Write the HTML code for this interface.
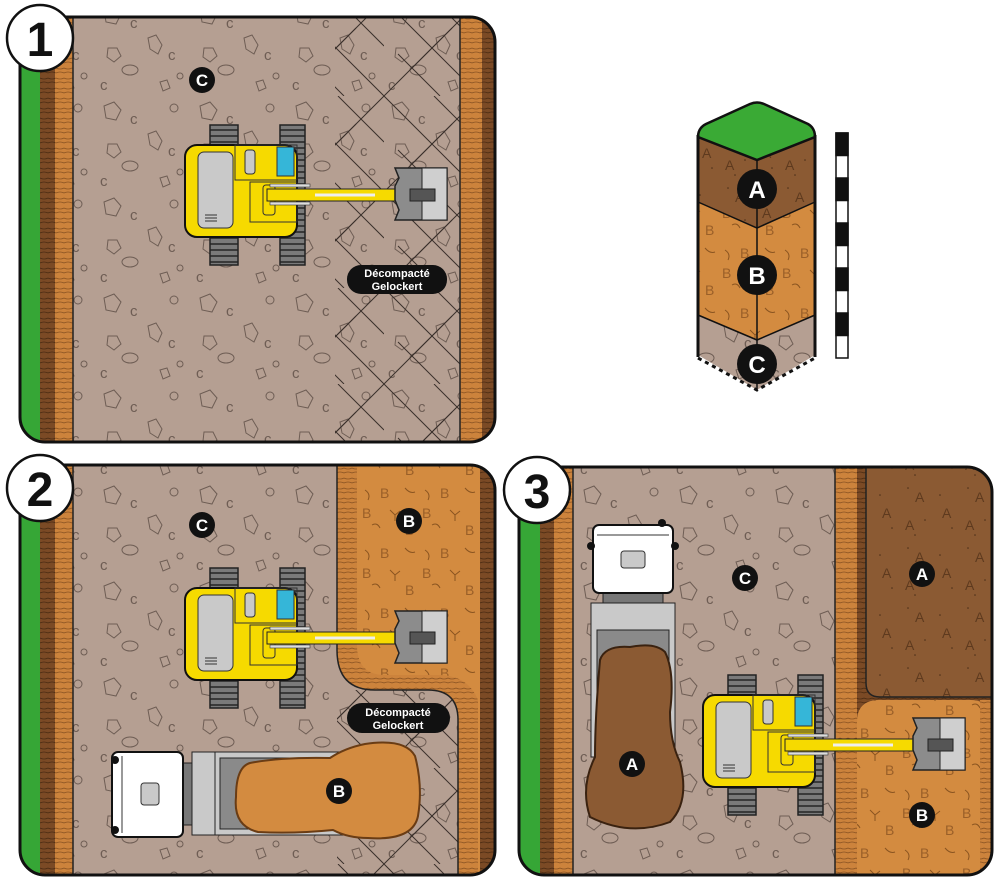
<!DOCTYPE html>
<html><head><meta charset="utf-8"><style>
html,body{margin:0;padding:0;background:#fff;}
svg{display:block;}
text{font-family:"Liberation Sans",Arial,sans-serif;}
</style></head><body>
<svg width="1000" height="889" viewBox="0 0 1000 889" xmlns="http://www.w3.org/2000/svg">
<defs>
<pattern id="pC" width="96" height="96" patternUnits="userSpaceOnUse">
<rect width="96" height="96" fill="#b59f92"/>
<g fill="none" stroke="#6e5d54" stroke-width="1">
<path d="M8 10 l10 -4 l7 8 l-5 10 l-10 -2z"/><path d="M52 38 l8 -3 l6 10 l-4 9 l-8 -5z"/>
<ellipse cx="34" cy="70" rx="8" ry="5"/><circle cx="78" cy="12" r="4"/><path d="M12 48 l9 0 l4 8 l-7 6 l-7 -5z"/>
<circle cx="84" cy="76" r="3"/><path d="M64 82 l7 -2 l3 8 l-7 3z"/>
</g>
<g fill="#6e5d54" font-size="15"><text x="34" y="28">c</text><text x="72" y="60">c</text><text x="4" y="90">c</text></g>
</pattern>
<pattern id="pX" width="96" height="96" patternUnits="userSpaceOnUse">
<rect width="96" height="96" fill="url(#pC)"/>
<g stroke="#3a302b" stroke-width="1"><line x1="0" y1="0" x2="48" y2="48"/><line x1="48" y1="48" x2="96" y2="96"/><line x1="96" y1="0" x2="28" y2="68"/><line x1="68" y1="28" x2="0" y2="96"/><line x1="14" y1="54" x2="56" y2="96"/><line x1="50" y1="0" x2="96" y2="46"/></g>
</pattern>
<pattern id="pB" width="60" height="60" patternUnits="userSpaceOnUse">
<rect width="60" height="60" fill="#d38b40"/>
<g fill="none" stroke="#8a5420" stroke-width="1"><path d="M5 10 q6 4 3 10"/><path d="M30 30 l5 5 l5 -4 M35 35 v6"/><path d="M45 8 q5 6 10 4"/><path d="M12 45 q5 -3 8 3"/></g>
<g fill="#9a5f28" font-size="14"><text x="20" y="18">B</text><text x="45" y="55">B</text><text x="2" y="38">B</text></g>
</pattern>
<pattern id="pA" width="60" height="60" patternUnits="userSpaceOnUse">
<rect width="60" height="60" fill="#8b5a33"/>
<g fill="#4a2e18"><circle cx="8" cy="8" r="0.8"/><circle cx="40" cy="15" r="0.8"/><circle cx="25" cy="40" r="0.8"/><circle cx="52" cy="48" r="0.8"/><circle cx="15" cy="55" r="0.8"/></g>
<g fill="#5e3a1e" font-size="14"><text x="15" y="22">A</text><text x="42" y="38">A</text><text x="5" y="50">A</text></g>
</pattern>
<pattern id="pS" width="8" height="10" patternUnits="userSpaceOnUse">
<rect width="8" height="10" fill="#cc833c"/><path d="M0 3 q4 -2 8 0 M0 8 q4 2 8 0" stroke="#8a5322" fill="none" stroke-width="0.8"/>
</pattern>
<pattern id="pD" width="8" height="10" patternUnits="userSpaceOnUse">
<rect width="8" height="10" fill="#7b4a25"/><path d="M0 3 q4 -2 8 0 M0 8 q4 2 8 0" stroke="#4a2b12" fill="none" stroke-width="0.8"/>
</pattern>
<pattern id="pT" width="28" height="6" patternUnits="userSpaceOnUse">
<rect width="28" height="6" fill="#7a7a7a"/><rect y="4" width="28" height="2" fill="#3a3a3a"/>
</pattern>
<clipPath id="c1"><rect x="20" y="17" width="475" height="425" rx="25"/></clipPath>
<clipPath id="c2"><rect x="20" y="465" width="475" height="410" rx="25"/></clipPath>
<clipPath id="c3"><rect x="519" y="467" width="473" height="408" rx="25"/></clipPath>
<g id="exc">
<rect x="25" y="0" width="28" height="140" fill="url(#pT)" stroke="#222" stroke-width="1.5"/>
<rect x="95" y="0" width="25" height="140" fill="url(#pT)" stroke="#222" stroke-width="1.5"/>
<rect x="0" y="20" width="112" height="92" rx="12" fill="#f6da00" stroke="#111" stroke-width="2"/>
<rect x="13" y="27" width="35" height="76" rx="6" fill="#c9c9c9" stroke="#333"/>
<g stroke="#333"><line x1="20" y1="90" x2="32" y2="90"/><line x1="20" y1="93" x2="32" y2="93"/><line x1="20" y1="96" x2="32" y2="96"/></g>
<rect x="50" y="20" width="62" height="35" fill="none" stroke="#333"/>
<rect x="60" y="25" width="10" height="24" rx="3" fill="#c9c9c9" stroke="#333"/>
<rect x="92" y="22" width="17" height="29" fill="#35b6d8" stroke="#333"/>
<rect x="65" y="57" width="47" height="40" fill="none" stroke="#333"/>
<rect x="78" y="60" width="12" height="30" rx="3" fill="#f6da00" stroke="#333"/>
<rect x="82" y="64" width="150" height="12" fill="#f6da00" stroke="#222"/>
<line x1="130" y1="70" x2="190" y2="70" stroke="#eee" stroke-width="3"/>
<rect x="85" y="59" width="40" height="3" fill="#ddd" stroke="#333" stroke-width="0.6"/>
<rect x="85" y="77" width="40" height="3" fill="#ddd" stroke="#333" stroke-width="0.6"/>
<path d="M210 43 h52 v52 h-52 l4 -10 l-4 -10 v-14 l4 -8z" fill="#8c8c8c" stroke="#222" stroke-width="1.5"/>
<rect x="237" y="43" width="25" height="52" fill="#cfcfcf" stroke="#222"/>
<rect x="225" y="64" width="25" height="12" fill="#555" stroke="#222"/>
</g>
</defs>

<!-- PANEL 1 -->
<g clip-path="url(#c1)">
<rect x="20" y="17" width="475" height="425" fill="url(#pC)"/>
<rect x="20" y="17" width="20" height="425" fill="#36a636"/>
<rect x="40" y="17" width="15" height="425" fill="url(#pD)"/>
<rect x="55" y="17" width="18" height="425" fill="url(#pS)"/>
<line x1="73" y1="17" x2="73" y2="442" stroke="#222" stroke-width="1.5"/>
<rect x="335" y="17" width="125" height="425" fill="url(#pX)"/>
<rect x="460" y="17" width="22" height="425" fill="url(#pS)"/>
<rect x="482" y="17" width="13" height="425" fill="url(#pD)"/>
<line x1="460" y1="17" x2="460" y2="442" stroke="#222" stroke-width="1.5"/>
</g>
<rect x="20" y="17" width="475" height="425" rx="25" fill="none" stroke="#111" stroke-width="3"/>
<use href="#exc" x="185" y="125"/>
<circle cx="202" cy="80" r="13" fill="#111"/><text x="202" y="86" text-anchor="middle" fill="#fff" font-weight="bold" font-size="17">C</text>
<rect x="347" y="265" width="100" height="29" rx="14" fill="#111"/>
<text x="397" y="277" text-anchor="middle" fill="#fff" font-weight="bold" font-size="11">Décompacté</text>
<text x="397" y="290" text-anchor="middle" fill="#fff" font-weight="bold" font-size="11">Gelockert</text>
<circle cx="40" cy="38" r="33" fill="#fff" stroke="#111" stroke-width="2.5"/>
<text x="40" y="56" text-anchor="middle" font-weight="bold" font-size="48" fill="#111">1</text>

<!-- PANEL 2 -->
<g clip-path="url(#c2)">
<rect x="20" y="465" width="475" height="410" fill="url(#pC)"/>
<rect x="20" y="465" width="20" height="410" fill="#36a636"/>
<rect x="40" y="465" width="15" height="410" fill="url(#pD)"/>
<rect x="55" y="465" width="18" height="410" fill="url(#pS)"/>
<line x1="73" y1="465" x2="73" y2="875" stroke="#222" stroke-width="1.5"/>
<rect x="337" y="690" width="125" height="185" fill="url(#pX)"/>
<path d="M337 465 H495 V875 H458 V720 q0 -30 -30 -30 H375 q-38 0 -38 -40z" fill="url(#pS)" stroke="#222" stroke-width="1.5"/>
<path d="M357 465 H480 V875 H478 V700 q-10 -25 -40 -25 H385 q-28 0 -28 -30z" fill="url(#pB)"/>
<rect x="480" y="465" width="15" height="410" fill="url(#pD)"/>
</g>
<rect x="20" y="465" width="475" height="410" rx="25" fill="none" stroke="#111" stroke-width="3"/>
<use href="#exc" x="185" y="568"/>
<circle cx="202" cy="525" r="13" fill="#111"/><text x="202" y="531" text-anchor="middle" fill="#fff" font-weight="bold" font-size="17">C</text>
<circle cx="409" cy="521" r="13" fill="#111"/><text x="409" y="527" text-anchor="middle" fill="#fff" font-weight="bold" font-size="17">B</text>
<rect x="347" y="703" width="103" height="30" rx="15" fill="#111"/>
<text x="398" y="716" text-anchor="middle" fill="#fff" font-weight="bold" font-size="11">Décompacté</text>
<text x="398" y="729" text-anchor="middle" fill="#fff" font-weight="bold" font-size="11">Gelockert</text>
<!-- truck 2 -->
<rect x="183" y="763" width="12" height="62" fill="#777" stroke="#222"/>
<rect x="192" y="752" width="25" height="83" fill="#c9c9c9" stroke="#222"/>
<rect x="215" y="752" width="130" height="83" fill="#c9c9c9" stroke="#222"/>
<rect x="220" y="758" width="120" height="71" fill="#8a8a8a" stroke="#222"/>
<rect x="112" y="752" width="71" height="85" rx="6" fill="#fff" stroke="#111" stroke-width="2"/>
<path d="M122 756 v77" stroke="#333" fill="none"/>
<rect x="141" y="783" width="18" height="22" rx="3" fill="#c9c9c9" stroke="#333"/>
<circle cx="115" cy="760" r="4" fill="#111"/><circle cx="115" cy="830" r="4" fill="#111"/>
<path d="M250 763 q30 -6 80 -5 q15 -10 35 -14 q40 -6 50 12 q8 30 3 60 q-5 25 -50 22 q-20 0 -35 -8 q-40 4 -75 2 q-25 -6 -22 -35 q0 -30 14 -34z" fill="#d38b40" stroke="#6a3c14" stroke-width="2"/>
<circle cx="339" cy="791" r="13" fill="#111"/><text x="339" y="797" text-anchor="middle" fill="#fff" font-weight="bold" font-size="17">B</text>
<circle cx="40" cy="488" r="33" fill="#fff" stroke="#111" stroke-width="2.5"/>
<text x="40" y="506" text-anchor="middle" font-weight="bold" font-size="48" fill="#111">2</text>

<!-- PANEL 3 -->
<g clip-path="url(#c3)">
<rect x="519" y="467" width="473" height="408" fill="url(#pC)"/>
<rect x="519" y="467" width="21" height="408" fill="#36a636"/>
<rect x="540" y="467" width="14" height="408" fill="url(#pD)"/>
<rect x="554" y="467" width="19" height="408" fill="url(#pS)"/>
<line x1="573" y1="467" x2="573" y2="875" stroke="#222" stroke-width="1.5"/>
<rect x="835" y="467" width="160" height="410" fill="url(#pS)"/>
<line x1="835" y1="467" x2="835" y2="875" stroke="#222" stroke-width="1.5"/>
<path d="M857 467 H995 V720 q-5 -20 -25 -20 H880 q-23 0 -23 22 z" fill="url(#pD)"/>
<path d="M857 722 q0 -22 23 -22 H970 q20 0 25 20 V875 H857z" fill="url(#pB)"/>
<path d="M866 467 H995 V697 H880 q-14 0 -14 -14z" fill="url(#pA)" stroke="#222" stroke-width="1.5"/>
<rect x="980" y="700" width="15" height="175" fill="url(#pS)"/>
</g>
<rect x="519" y="467" width="473" height="408" rx="25" fill="none" stroke="#111" stroke-width="3"/>
<!-- truck 3 -->
<rect x="603" y="593" width="60" height="12" fill="#777" stroke="#222"/>
<rect x="591" y="603" width="84" height="154" fill="#c9c9c9" stroke="#222"/>
<rect x="597" y="630" width="72" height="122" fill="#8a8a8a" stroke="#222"/>
<rect x="593" y="525" width="80" height="68" rx="6" fill="#fff" stroke="#111" stroke-width="2"/>
<path d="M597 535 h72" stroke="#333" fill="none"/>
<rect x="621" y="551" width="24" height="17" rx="3" fill="#c9c9c9" stroke="#333"/>
<circle cx="591" cy="546" r="4" fill="#111"/><circle cx="675" cy="546" r="4" fill="#111"/><circle cx="662" cy="523" r="4" fill="#111"/>
<path d="M600 660 q5 -15 30 -13 q25 -5 35 5 q10 20 5 60 q0 30 10 50 q10 40 -10 60 q-40 15 -80 -5 q-10 -30 5 -60 q0 -40 5 -97z" fill="#8b5a33" stroke="#3a2210" stroke-width="2"/>
<circle cx="632" cy="764" r="13" fill="#111"/><text x="632" y="770" text-anchor="middle" fill="#fff" font-weight="bold" font-size="17">A</text>
<use href="#exc" x="703" y="675"/>
<circle cx="745" cy="578" r="13" fill="#111"/><text x="745" y="584" text-anchor="middle" fill="#fff" font-weight="bold" font-size="17">C</text>
<circle cx="922" cy="574" r="13" fill="#111"/><text x="922" y="580" text-anchor="middle" fill="#fff" font-weight="bold" font-size="17">A</text>
<circle cx="922" cy="815" r="13" fill="#111"/><text x="922" y="821" text-anchor="middle" fill="#fff" font-weight="bold" font-size="17">B</text>
<circle cx="537" cy="490" r="33" fill="#fff" stroke="#111" stroke-width="2.5"/>
<text x="537" y="508" text-anchor="middle" font-weight="bold" font-size="48" fill="#111">3</text>

<!-- COLUMN -->
<path d="M698 315 L757 340 L757 390 L698 355z" fill="url(#pC)"/>
<path d="M815 315 L757 340 L757 390 L815 355z" fill="url(#pC)"/>
<path d="M698 202 L757 228 L757 340 L698 315z" fill="url(#pB)"/>
<path d="M815 202 L757 228 L757 340 L815 315z" fill="url(#pB)"/>
<path d="M698 137 L757 160 L757 228 L698 202z" fill="url(#pA)"/>
<path d="M815 137 L757 160 L757 228 L815 202z" fill="url(#pA)"/>
<path d="M698 137 Q698 128 706 124 L750 104 Q757 101 764 104 L808 124 Q815 128 815 137 L757 160z" fill="#3aaa35" stroke="#111" stroke-width="2.5"/>
<g stroke="#111" stroke-width="1.5" fill="none"><path d="M698 202 L757 228 L815 202"/><path d="M698 315 L757 340 L815 315"/><line x1="757" y1="160" x2="757" y2="390"/></g>
<g stroke="#111" stroke-width="3" fill="none"><line x1="698" y1="135" x2="698" y2="357"/><line x1="815" y1="135" x2="815" y2="357"/></g>
<path d="M698 358 L757 390 L815 358" stroke="#111" stroke-width="3" stroke-dasharray="4 4" fill="none"/>
<circle cx="757" cy="189" r="20" fill="#111"/><text x="757" y="198" text-anchor="middle" fill="#fff" font-weight="bold" font-size="24">A</text>
<circle cx="757" cy="275" r="20" fill="#111"/><text x="757" y="284" text-anchor="middle" fill="#fff" font-weight="bold" font-size="24">B</text>
<circle cx="757" cy="364" r="20" fill="#111"/><text x="757" y="373" text-anchor="middle" fill="#fff" font-weight="bold" font-size="24">C</text>
<!-- ruler -->
<g stroke="#111" stroke-width="1.5">
<rect x="836" y="133" width="12" height="225" fill="#fff"/>
<rect x="836" y="133" width="12" height="22.5" fill="#111"/>
<rect x="836" y="178" width="12" height="22.5" fill="#111"/>
<rect x="836" y="223" width="12" height="22.5" fill="#111"/>
<rect x="836" y="268" width="12" height="22.5" fill="#111"/>
<rect x="836" y="313" width="12" height="22.5" fill="#111"/>
</g>
</svg>
</body></html>
